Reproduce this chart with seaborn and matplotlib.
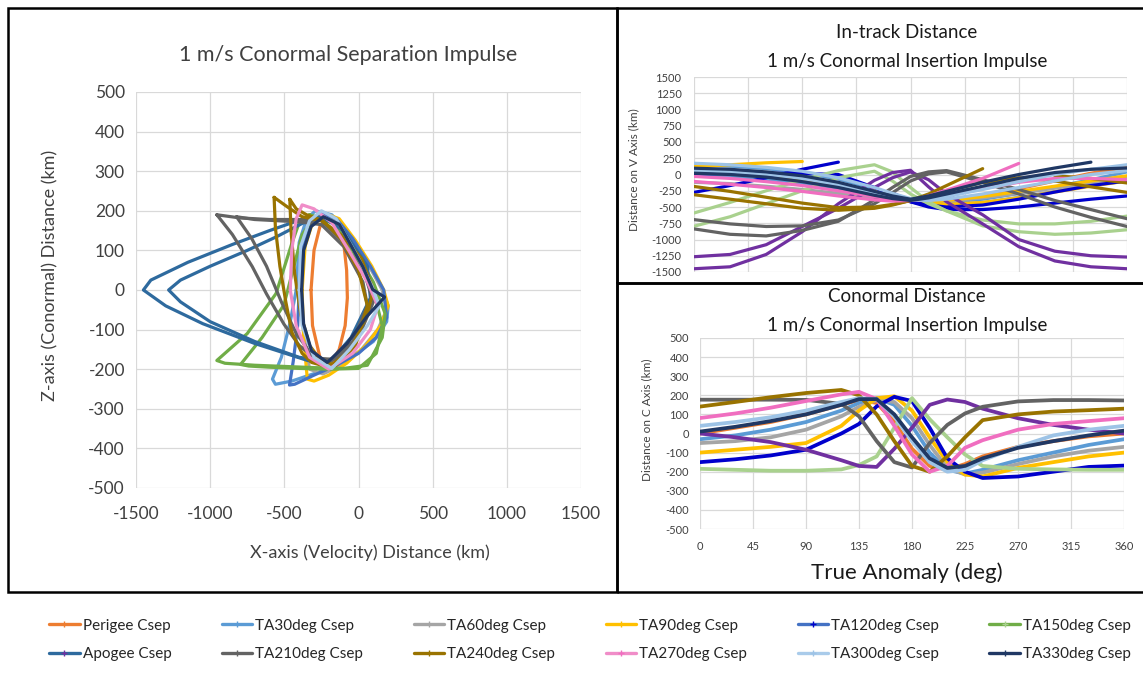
import numpy as np
import pandas as pd
import matplotlib
matplotlib.use("Agg")
import matplotlib.pyplot as plt
from matplotlib.lines import Line2D
from matplotlib.patches import Rectangle
import seaborn as sns

nan = np.nan

# ----------------------------
# Data
# ----------------------------
names = ["Perigee", "TA30deg", "TA60deg", "TA90deg", "TA120deg", "TA150deg",
         "Apogee", "TA210deg", "TA240deg", "TA270deg", "TA300deg", "TA330deg"]

# line colours of the separation chart / marker colours of the right charts
left_colors = ["#ED7D31", "#5B9BD5", "#A5A5A5", "#FFC000", "#4472C4", "#70AD47",
               "#2E6A9E", "#636363", "#997300", "#F08DC8", "#A9CBEA", "#203864"]
right_colors = ["#ED7D31", "#5B9BD5", "#A5A5A5", "#FFC000", "#0000CC", "#A9D18E",
                "#7030A0", "#636363", "#997300", "#F06EC0", "#9DC3E6", "#203864"]

# in-track distance (km) vs true anomaly
ta_v = [0, 30, 60, 90, 120, 150, 165, 180, 195, 210, 240, 270, 300, 330, 360]
perigee_v1 = [0, -10, -40, -90, -170, -280, -340, -390, -410, -400, -330, -220, -100, 20, 110]
perigee_v2 = [nan] * 15
ta30_v1 = [150, 130, 90, 30, -70, -220, -300, -380, -420, -430, -380, -290, -190, -80, 40]
ta30_v2 = [-20, -40, -80, -140, -220, -320, -370, -400, -420, -420, -370, -290, -200, -110, -30]
ta60_v1 = [80, 60, 20, -40, -140, -280, -350, -400, -440, -460, -430, -350, -260, -160, -60]
ta60_v2 = [-120, -140, -180, -230, -290, -360, -390, -410, -420, -410, -360, -290, -210, -140, -80]
ta90_v1 = [120, 150, 180, 200, nan, -250, -330, -400, -440, -460, -430, -360, -270, -180, -100]
ta90_v2 = [40, 30, 0, -60, -150, -280, -350, -400, -420, -400, -340, -260, -180, -100, -20]
ta120_v1 = [-275, -170, -50, 80, 190, nan, -280, -420, -500, -540, -540, -500, -440, -380, -330]
ta120_v2 = [10, 15, 20, 15, 0, -200, -330, -420, -470, -500, -470, -380, -270, -170, -100]
ta150_v1 = [-592, -430, -250, -80, 60, 150, 40, -200, -420, -560, -790, -880, -920, -900, -850]
ta150_v2 = [-796, -650, -450, -250, -50, 50, -100, -300, -450, -560, -700, -760, -760, -720, -640]
apogee_v1 = [-1450, -1420, -1230, -880, -450, -90, 30, 65, -190, -420, -760, -1110, -1330, -1420, -1450]
apogee_v2 = [-1265, -1230, -1080, -800, -520, -200, -50, 40, -80, -300, -620, -1000, -1180, -1250, -1270]
ta210_v1 = [-837, -920, -945, -860, -720, -390, -200, -30, 40, 60, -80, -230, -400, -540, -680]
ta210_v2 = [-694, -760, -800, -790, -700, -450, -280, -100, 10, 40, -120, -300, -500, -660, -800]
ta240_v1 = [-184, -260, -350, -440, -510, -500, -460, -400, -300, -170, 90, nan, -20, -60, -130]
ta240_v2 = [-311, -380, -450, -520, -550, -520, -470, -400, -330, -260, -120, -50, -100, -190, -275]
ta270_v1 = [-107, -150, -200, -260, -330, -390, -410, -400, -330, -240, -60, 170, nan, nan, nan]
ta270_v2 = [-30, -60, -110, -170, -250, -340, -380, -400, -380, -330, -220, -120, -60, -60, -80]
ta300_v1 = [173, 150, 110, 50, -50, -200, -290, -370, -380, -340, -230, -110, 0, 80, 150]
ta300_v2 = [60, 40, 0, -60, -160, -290, -350, -390, -400, -380, -300, -200, -100, 0, 60]
ta330_v1 = [97, 80, 40, -20, -120, -260, -330, -380, -330, -260, -120, 0, 100, 190, nan]
ta330_v2 = [20, 0, -40, -110, -200, -320, -370, -400, -360, -300, -180, -60, 30, 80, 100]

# conormal distance (km) vs true anomaly
ta_c = [0, 30, 60, 90, 120, 135, 150, 165, 180, 195, 210, 225, 240, 270, 300, 330, 360]
perigee_c = [0, 30, 60, 100, 150, 175, 160, 60, -80, -170, -190, -160, -120, -70, -40, -15, 0]
ta30_c = [-30, -10, 20, 60, 120, 160, 185, 150, 40, -100, -190, -210, -190, -140, -100, -60, -30]
ta60_c = [-50, -40, -20, 20, 90, 140, 175, 165, 80, -60, -180, -215, -205, -160, -120, -90, -70]
ta90_c = [-100, -85, -70, -50, 40, 120, 185, 195, 120, -20, -150, -215, -225, -180, -150, -120, -100]
ta120_c = [-150, -135, -115, -85, 0, 50, 142, 192, 170, 30, -130, -200, -233, -225, -200, -175, -168]
ta150_c = [-185, -190, -195, -195, -188, -165, -120, 30, 185, 75, -20, -110, -170, -185, -188, -190, -190]
apogee_c = [0, -20, -45, -85, -140, -170, -175, -80, 30, 150, 178, 165, 130, 80, 45, 20, 0]
ta210_c = [177, 177, 177, 176, 155, 90, -40, -150, -178, -50, 45, 105, 140, 168, 175, 175, 173]
ta240_c = [141, 165, 190, 212, 228, 200, 100, -40, -170, -200, -120, -20, 70, 100, 115, 122, 130]
ta270_c = [81, 105, 135, 170, 205, 218, 180, 40, -110, -200, -170, -75, -35, 20, 50, 65, 80]
ta300_c = [40, 60, 85, 120, 165, 185, 180, 90, -40, -150, -200, -190, -140, -70, -10, 20, 40]
ta330_c = [10, 35, 65, 100, 150, 180, 180, 100, -20, -130, -180, -170, -130, -75, -40, -10, 15]

# separation loops: X (velocity) and Z (conormal) distance, km
perigee_x = [-320, -300, -260, -200, -140, -100, -80, -75, -90, -130, -190, -260, -310, -320]
perigee_z = [0, 100, 160, 185, 170, 120, 50, -20, -90, -150, -190, -170, -90, 0]
ta30_x = [-420, -400, -350, -290, -180, -60, 60, 150, 200, 190, 100, -50, -250, -450, -560, -580, -520, -460, -420]
ta30_z = [0, 120, 180, 200, 190, 140, 70, 10, -40, -80, -130, -170, -205, -230, -238, -225, -170, -80, 0]
ta60_x = [-390, -370, -320, -250, -140, -30, 80, 160, 190, 130, 20, -110, -240, -330, -370, -390]
ta60_z = [0, 105, 165, 190, 175, 120, 55, 0, -50, -100, -150, -190, -212, -200, -110, 0]
ta90_x = [-380, -360, -310, -240, -130, -20, 90, 170, 200, 150, 50, -80, -200, -300, -345, -370, -380]
ta90_z = [0, 110, 170, 195, 180, 125, 60, 0, -40, -90, -140, -185, -215, -230, -225, -120, 0]
ta120_x = [-400, -380, -330, -260, -150, -40, 80, 170, 190, 120, 0, -150, -300, -430, -465, -440, -410, -400]
ta120_z = [0, 110, 170, 195, 180, 130, 60, 0, -70, -120, -160, -190, -215, -238, -240, -180, -90, 0]
ta150_x1 = [-330, -400, -450, -556, -750, -955, -900, -700, -500, -300, -100, 60, 160, 180, 100, -40, -180, -330]
ta150_z1 = [190, 170, 117, -9, -110, -178, -185, -190, -193, -196, -198, -190, -120, -60, 20, 110, 175, 190]
ta150_x2 = [-300, -380, -423, -503, -650, -795, -740, -600, -400, -200, 0, 120, 160, 100, -40, -170, -300]
ta150_z2 = [180, 140, 78, -38, -120, -188, -192, -195, -198, -200, -198, -160, -90, 0, 100, 170, 180]
apogee_x1 = [-250, -370, -600, -850, -1150, -1400, -1450, -1300, -1050, -700, -343, -200, -50, 80, 60, -100, -250]
apogee_z1 = [185, 180, 150, 115, 70, 25, 0, -40, -85, -135, -178, -185, -120, -20, 60, 150, 185]
apogee_x2 = [-250, -370, -550, -750, -1000, -1200, -1280, -1200, -1000, -700, -400, -200]
apogee_z2 = [180, 170, 135, 100, 60, 25, 0, -30, -80, -130, -170, -180]
ta210_x1 = [-955, -800, -600, -400, -250, -100, 50, 100, 0, -150, -290, -400, -503, -620, -716, -850, -955]
ta210_z1 = [190, 182, 178, 178, 175, 120, 30, -30, -120, -175, -173, -140, -86, -10, 59, 140, 190]
ta210_x2 = [-822, -700, -550, -400, -250, -100, 30, 60, -40, -180, -300, -420, -520, -620, -720, -822]
ta210_z2 = [185, 178, 175, 172, 165, 110, 20, -40, -130, -178, -170, -110, -30, 60, 130, 185]
ta240_x1 = [-569, -560, -530, -490, -450, -380, -316, -200, -50, 60, 100, 20, -120, -250, -380, -480, -569]
ta240_z1 = [234, 156, 60, -30, -106, -160, -183, -195, -150, -60, 0, 80, 140, 175, 185, 210, 234]
ta240_x2 = [-463, -455, -430, -390, -330, -250, -150, -20, 60, 0, -120, -240, -350, -420, -463]
ta240_z2 = [229, 150, 40, -60, -140, -180, -190, -140, -40, 50, 130, 175, 190, 205, 229]
ta270_x = [-460, -450, -420, -380, -300, -180, -50, 60, 130, 80, -40, -200, -330, -420, -460]
ta270_z = [0, 100, 180, 215, 205, 170, 90, 20, -40, -100, -160, -200, -170, -90, 0]
ta300_x = [-400, -390, -330, -250, -150, 0, 90, 140, 60, -60, -180, -300, -380, -400]
ta300_z = [0, 110, 175, 200, 180, 80, 10, -40, -90, -150, -198, -170, -90, 0]
ta330_x = [-383, -370, -320, -237, -130, 29, 96, 176, 56, -77, -210, -316, -370, -383]
ta330_z = [0, 100, 160, 185, 166, 59, 1, -18, -67, -135, -183, -154, -86, 0]

v_branches = [(perigee_v1, perigee_v2), (ta30_v1, ta30_v2), (ta60_v1, ta60_v2),
              (ta90_v1, ta90_v2), (ta120_v1, ta120_v2), (ta150_v1, ta150_v2),
              (apogee_v1, apogee_v2), (ta210_v1, ta210_v2), (ta240_v1, ta240_v2),
              (ta270_v1, ta270_v2), (ta300_v1, ta300_v2), (ta330_v1, ta330_v2)]
c_lines = [perigee_c, ta30_c, ta60_c, ta90_c, ta120_c, ta150_c,
           apogee_c, ta210_c, ta240_c, ta270_c, ta300_c, ta330_c]
loops = [[(perigee_x, perigee_z)], [(ta30_x, ta30_z)], [(ta60_x, ta60_z)],
         [(ta90_x, ta90_z)], [(ta120_x, ta120_z)],
         [(ta150_x1, ta150_z1), (ta150_x2, ta150_z2)],
         [(apogee_x1, apogee_z1), (apogee_x2, apogee_z2)],
         [(ta210_x1, ta210_z1), (ta210_x2, ta210_z2)],
         [(ta240_x1, ta240_z1), (ta240_x2, ta240_z2)],
         [(ta270_x, ta270_z)], [(ta300_x, ta300_z)], [(ta330_x, ta330_z)]]

# ----------------------------
# Figure setup
# ----------------------------
sns.set_style("whitegrid")
plt.rcParams['font.family'] = ['Lato', 'DejaVu Sans']
plt.rcParams['axes.unicode_minus'] = False

W, H = 1143, 673
fig = plt.figure(figsize=(W / 100, H / 100), dpi=100)


def fx(px):
    return px / W


def fy(py):
    return 1 - py / H


ax_l = fig.add_axes([fx(136), fy(488), (581 - 136) / W, (488 - 92) / H])
ax_v = fig.add_axes([fx(694), fy(272), (1127 - 694) / W, (272 - 77) / H])
ax_c = fig.add_axes([fx(700), fy(529), (1124 - 700) / W, (529 - 338) / H])


def draw(ax, x, y, color, lw):
    # split at gaps so each piece is drawn on its own
    df = pd.DataFrame({'x': x, 'y': y})
    df['seg'] = df['y'].isna().cumsum()
    df = df.dropna()
    for _, part in df.groupby('seg'):
        if len(part) > 1:
            sns.lineplot(data=part, x='x', y='y', ax=ax, color=color, lw=lw,
                         sort=False, estimator=None, legend=False)


for i in range(len(names)):
    for xs, zs in loops[i]:
        draw(ax_l, xs, zs, left_colors[i], 2.3)
    for vb in v_branches[i]:
        draw(ax_v, ta_v, vb, right_colors[i], 2.3)
    draw(ax_c, ta_c, c_lines[i], right_colors[i], 2.7)

for ax in (ax_l, ax_v, ax_c):
    ax.set_xlabel('')
    ax.set_ylabel('')
    for s in ax.spines.values():
        s.set_visible(False)
    ax.grid(True, color='#D9D9D9', lw=0.9)
    ax.tick_params(length=0, colors='#404040')
    ax.set_facecolor('white')

ax_l.set_xlim(-1500, 1500)
ax_l.set_ylim(-500, 500)
ax_l.set_xticks(range(-1500, 1501, 500))
ax_l.set_yticks(range(-500, 501, 100))
ax_l.tick_params(labelsize=12.5)
ax_l.tick_params(axis='x', pad=13)
ax_l.tick_params(axis='y', pad=8)

ax_v.set_xlim(0, 360)
ax_v.set_ylim(-1500, 1500)
ax_v.set_xticks(range(0, 361, 45))
ax_v.set_xticklabels([])
ax_v.set_yticks(range(-1500, 1501, 250))
ax_v.tick_params(labelsize=8, pad=9)

ax_c.set_xlim(0, 360)
ax_c.set_ylim(-500, 500)
ax_c.set_xticks(range(0, 361, 45))
ax_c.set_yticks(range(-500, 501, 100))
ax_c.tick_params(labelsize=8)
ax_c.tick_params(axis='y', pad=8)
ax_c.tick_params(axis='x', pad=9)

# ----------------------------
# Texts
# ----------------------------
fig.text(fx(348), fy(55), "1 m/s Conormal Separation Impulse", ha='center', va='center',
         fontsize=15.5, color='#404040')
fig.text(fx(370), fy(553), "X-axis (Velocity) Distance (km)", ha='center', va='center',
         fontsize=13, color='#404040')
fig.text(fx(50), fy(275), "Z-axis (Conormal) Distance (km)", ha='center', va='center',
         rotation=90, fontsize=13, color='#404040')

fig.text(fx(907), fy(33), "In-track Distance", ha='center', va='center', fontsize=13.5, color='#1a1a1a')
fig.text(fx(907), fy(61), "1 m/s Conormal Insertion Impulse", ha='center', va='center',
         fontsize=13.5, color='#1a1a1a')
fig.text(fx(634), fy(170), "Distance on V Axis (km)", ha='center', va='center',
         rotation=90, fontsize=8.5, color='#404040')

fig.text(fx(907), fy(296), "Conormal Distance", ha='center', va='center', fontsize=13.5, color='#1a1a1a')
fig.text(fx(907), fy(325), "1 m/s Conormal Insertion Impulse", ha='center', va='center',
         fontsize=13.5, color='#1a1a1a')
fig.text(fx(647), fy(420), "Distance on C Axis (km)", ha='center', va='center',
         rotation=90, fontsize=8.5, color='#404040')
fig.text(fx(907), fy(573), "True Anomaly (deg)", ha='center', va='center',
         fontsize=16, color='#1a1a1a')

# ----------------------------
# Panel borders
# ----------------------------
for (x0, y0, x1, y1) in [(8, 8, 617, 592), (617, 8, 1150, 283), (617, 283, 1150, 592)]:
    fig.add_artist(Rectangle((fx(x0), fy(y1)), (x1 - x0) / W, (y1 - y0) / H,
                             transform=fig.transFigure, fill=False, ec='black', lw=1.8))

# ----------------------------
# Legend (two rows)
# ----------------------------
handles = [Line2D([0], [0], color=left_colors[i], lw=2.4, marker='+', ms=5,
                  mec=right_colors[i], mfc=right_colors[i]) for i in range(len(names))]
labels = [n + " Csep" for n in names]
order = [0, 6, 1, 7, 2, 8, 3, 9, 4, 10, 5, 11]
fig.legend([handles[i] for i in order], [labels[i] for i in order], ncol=6,
           loc='center', bbox_to_anchor=(fx(590), fy(640)), frameon=False,
           fontsize=11, handlelength=2.0, handletextpad=0.2, columnspacing=3.3,
           labelspacing=0.95)

fig.savefig("out.png", dpi=100)
